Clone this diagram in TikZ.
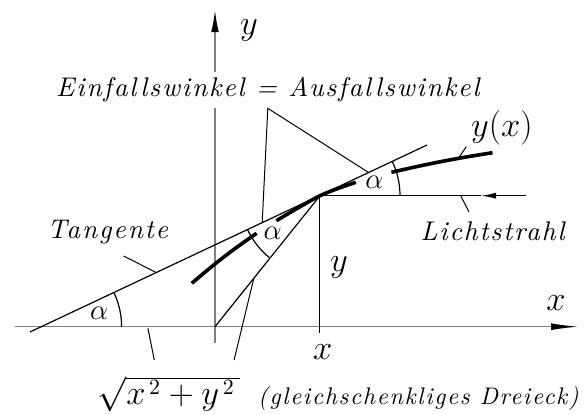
\documentclass[tikz,border=0pt]{standalone}
\usepackage{fontspec}
\newfontfamily\lblfont[LetterSpace=7]{lmroman10-italic.otf}
\usetikzlibrary{arrows.meta}
\begin{document}
\begin{tikzpicture}[x=0.5pt,y=0.5pt,
axis/.style = {line width=0.75pt,gray},
thinline/.style = {line width=0.6pt,black},
curve/.style = {line width=1.8pt,black},
leader/.style = {line width=0.5pt,black},
lbl/.style = {font=\fontsize{13.5}{16}\lblfont},
mlbl/.style = {font=\fontsize{16}{19}\selectfont},
alab/.style = {font=\fontsize{14}{16}\selectfont}]

        \useasboundingbox (-215,-87.3) rectangle (369,326.7);

        % axes
        \coordinate (O) at ( 0, 0 );
        \coordinate (XAx_Start) at ( -200, 0 );
        \coordinate (XAx_End) at ( 364, 0 );
        \coordinate (YAx_Start) at ( 0, -16.3 );
        \coordinate (YAx_GapLow) at ( 0, 218.7 );
        \coordinate (YAx_GapHigh) at ( 0, 254.7 );
        \coordinate (YAx_End) at ( 0, 316.7 );
        \draw[axis,-{Latex[length=14pt,width=3.4pt,color=black]}] (XAx_Start) -- (XAx_End);
        \draw[axis] (YAx_Start) -- (YAx_GapLow);
        \draw[axis,-{Latex[length=11pt,width=3.8pt,color=black]}] (YAx_GapHigh) -- (YAx_End);
        \node [mlbl,font=\fontsize{17}{20}\selectfont] (Y_Lab) at ( 34, 296.7 ) {$y$};
        \node [mlbl] (X_Lab) at ( 341, 23.7 ) {$x$};

        % tangent, ray, focus line
        \coordinate (P) at ( 105, 131 );
        \coordinate (T_0) at ( -173.4, 0 );
        \coordinate (Tan_Low) at ( -185, -5.3 );
        \coordinate (Tan_High) at ( 212, 181.7 );
        \coordinate (Ray_Start) at ( 311.2, 131 );
        \coordinate (Ray_Tip) at ( 266, 131 );
        \coordinate (P_Foot) at ( 105, -6.3 );
        \draw[thinline] (Tan_Low) -- (Tan_High);
        \draw[thinline,-{Latex[length=7.5pt,width=3pt]}] (Ray_Start) -- (Ray_Tip);
        \draw[thinline] (Ray_Tip) -- (P);
        \draw[thinline] (P) -- (O);
        \draw[leader] (P) -- (P_Foot);
        \node [mlbl,font=\fontsize{17}{20}\selectfont] (PY_Lab) at ( 124, 59.7 ) {$y$};
        \node [mlbl] (PX_Lab) at ( 107.8, -25.3 ) {$x$};

        % curve y(x)
        \coordinate (Crv_A) at ( -23.2, 43.4 );
        \coordinate (Crv_B) at ( 41.6, 93.4 );
        \coordinate (Crv_C) at ( 61.4, 106 );
        \coordinate (Crv_D) at ( 140.8, 144.4 );
        \coordinate (Crv_E) at ( 176.4, 154.4 );
        \coordinate (Crv_F) at ( 277.5, 174 );
        \draw[curve] (Crv_A) to[bend left=3] (Crv_B);
        \draw[curve] plot[smooth] coordinates {(Crv_C) (P) (Crv_D)};
        \draw[curve] (Crv_E) to[bend left=2] (Crv_F);

        % angles
        \draw[thinline] (T_0) ++(0:40pt) arc[start angle=0,end angle=25.2,radius=40pt];
        \draw[thinline] (P) ++(0:40pt) arc[start angle=0,end angle=25.2,radius=40pt];
        \draw[thinline] (P) ++(205.2:40pt) arc[start angle=205.2,end angle=231.3,radius=40pt];
        \node [alab] (A_Left) at ( -115.7, 13.4 ) {$\alpha$};
        \node [alab] (A_High) at ( 159.5, 144 ) {$\alpha$};
        \node [alab] (A_Low) at ( 57.7, 93.4 ) {$\alpha$};

        % labels and leaders
        \node [lbl] (Refl_Lab) at ( 52.8, 237.4 ) {Einfallswinkel = Ausfallswinkel};
        \coordinate (Refl_Apex) at ( 52.8, 218.4 );
        \coordinate (Refl_Low) at ( 47.2, 104 );
        \coordinate (Refl_High) at ( 153.9, 154 );
        \draw[leader] (Refl_Low) -- (Refl_Apex) -- (Refl_High);

        \node [mlbl,font=\fontsize{17}{20}\selectfont] (Crv_Lab) at ( 286.9, 198.4 ) {$y(x)$};
        \coordinate (Crv_Lead_A) at ( 251.3, 180 );
        \coordinate (Crv_Lead_B) at ( 242.7, 167.5 );
        \draw[leader] (Crv_Lead_A) -- (Crv_Lead_B);

        \node [lbl] (Ray_Lab) at ( 277.5, 95 ) {Lichtstrahl};
        \coordinate (Ray_Lead_A) at ( 245.7, 131 );
        \coordinate (Ray_Lead_B) at ( 253.9, 115 );
        \draw[leader] (Ray_Lead_A) -- (Ray_Lead_B);

        \node [lbl] (Tan_Lab) at ( -107.3, 95 ) {Tangente};
        \coordinate (Tan_Lead_A) at ( -91.4, 70.7 );
        \coordinate (Tan_Lead_B) at ( -58.4, 54 );
        \draw[leader] (Tan_Lead_A) -- (Tan_Lead_B);

        \node [mlbl,font=\fontsize{16}{19}\selectfont] (Sq_Lab) at ( -46, -67.4 ) {$\sqrt{x^{\,2}+y^{\,2}\,}$};
        \node [lbl,font=\fontsize{12}{14}\lblfont] (Iso_Lab) at ( 203.5, -71.4 ) {(gleichschenkliges Dreieck)};
        \coordinate (Sq_Lead_A) at ( -67.1, -1.6 );
        \coordinate (Sq_Lead_B) at ( -60.7, -33.3 );
        \coordinate (Sq_Lead_C) at ( 38.8, 48.4 );
        \coordinate (Sq_Lead_D) at ( 19.1, -33.3 );
        \draw[leader] (Sq_Lead_A) -- (Sq_Lead_B);
        \draw[leader] (Sq_Lead_C) -- (Sq_Lead_D);

\end{tikzpicture}
\end{document}
